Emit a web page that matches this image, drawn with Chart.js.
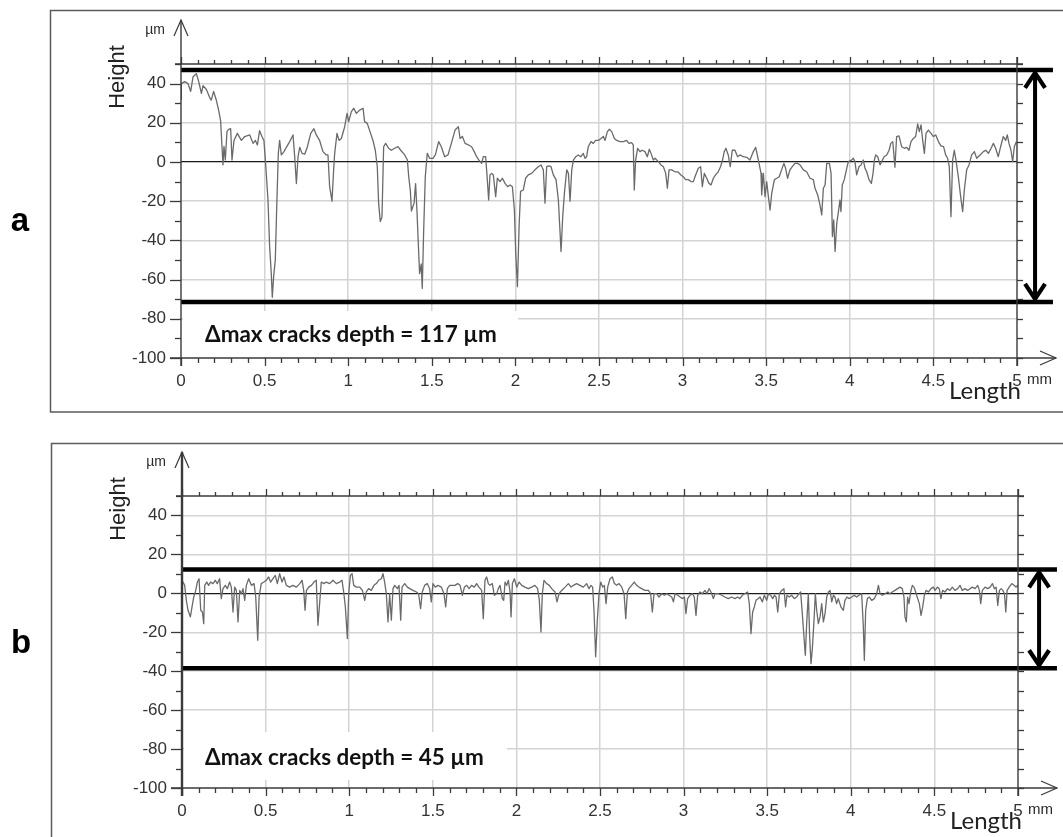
<!DOCTYPE html>
<html><head><meta charset="utf-8">
<script src="https://cdn.jsdelivr.net/npm/chart.js@4.4.1/dist/chart.umd.min.js"></script>
<style>
html,body{margin:0;padding:0;background:#fff;}
#wrap{position:relative;width:1063px;height:837px;overflow:hidden;background:#fff;}
canvas{position:absolute;left:0;}
</style></head><body>
<div id="wrap">
<canvas id="ca" width="1063" height="420" style="top:0"></canvas>
<canvas id="cb" width="1063" height="417" style="top:420px"></canvas>
</div>
<script>
// ---------- axis ticks ----------
const xTicks = [0, 0.5, 1, 1.5, 2, 2.5, 3, 3.5, 4, 4.5, 5];
const xTickLabels = ['0', '0.5', '1', '1.5', '2', '2.5', '3', '3.5', '4', '4.5', '5'];
const yTicks = [-100, -80, -60, -40, -20, 0, 20, 40];
const yTickLabels = ['-100', '-80', '-60', '-40', '-20', '0', '20', '40'];

// ---------- profile a (length mm, height µm) ----------
const lengthA = [0,0.002,0.022,0.042,0.058,0.072,0.092,0.106,0.122,0.132,0.152,0.171,0.181,0.195,0.211,0.225,0.237,0.245,0.251,0.257,0.265,0.275,0.285,0.297,0.305,0.317,0.337,0.361,0.381,0.411,0.431,0.445,0.457,0.470,0.484,0.496,0.506,0.520,0.530,0.540,0.546,0.554,0.564,0.572,0.582,0.590,0.600,0.616,0.630,0.650,0.670,0.680,0.690,0.700,0.710,0.724,0.740,0.756,0.776,0.795,0.809,0.829,0.849,0.869,0.879,0.889,0.903,0.913,0.919,0.933,0.945,0.959,0.979,0.993,1.003,1.019,1.033,1.049,1.069,1.089,1.098,1.114,1.134,1.148,1.162,1.174,1.182,1.192,1.202,1.212,1.224,1.242,1.258,1.278,1.298,1.314,1.338,1.354,1.362,1.372,1.378,1.394,1.403,1.411,1.421,1.427,1.437,1.443,1.451,1.461,1.473,1.487,1.507,1.521,1.541,1.557,1.577,1.597,1.617,
1.639,1.659,1.669,1.683,1.699,1.719,1.738,1.754,1.768,1.782,1.798,1.808,1.822,1.832,1.840,1.848,1.858,1.868,1.882,1.892,1.908,1.922,1.938,1.954,1.968,1.982,1.994,2.002,2.012,2.022,2.031,2.047,2.061,2.077,2.097,2.117,2.137,2.153,2.167,2.177,2.187,2.201,2.213,2.227,2.243,2.257,2.273,2.283,2.293,2.307,2.317,2.327,2.337,2.347,2.361,2.376,2.392,2.406,2.416,2.426,2.436,2.452,2.466,2.480,2.496,2.512,2.526,2.536,2.550,2.562,2.576,2.592,2.606,2.626,2.646,2.665,2.679,2.695,2.705,2.711,2.719,2.731,2.745,2.759,2.775,2.789,2.801,2.811,2.825,2.835,2.855,2.871,2.885,2.899,2.909,2.919,2.935,2.955,2.971,2.990,3.004,3.018,3.034,3.050,3.064,3.078,3.094,3.108,3.118,3.130,3.144,3.158,3.170,3.184,3.197,3.213,3.227,3.239,3.249,3.259,3.273,3.285,3.297,
3.313,3.329,3.343,3.363,3.383,3.403,3.423,3.437,3.449,3.459,3.469,3.473,3.483,3.493,3.503,3.513,3.523,3.533,3.549,3.563,3.578,3.592,3.606,3.616,3.628,3.642,3.656,3.672,3.688,3.702,3.722,3.742,3.762,3.782,3.792,3.808,3.822,3.832,3.842,3.852,3.862,3.878,3.888,3.896,3.904,3.912,3.922,3.932,3.941,3.947,3.955,3.967,3.977,3.991,4.011,4.021,4.031,4.041,4.055,4.067,4.081,4.091,4.101,4.115,4.129,4.139,4.147,4.155,4.167,4.181,4.191,4.205,4.221,4.235,4.245,4.257,4.270,4.280,4.294,4.310,4.326,4.340,4.354,4.366,4.380,4.394,4.406,4.416,4.426,4.436,4.446,4.456,4.470,4.486,4.500,4.514,4.530,4.545,4.561,4.573,4.585,4.595,4.605,4.615,4.625,4.635,4.649,4.663,4.675,4.685,4.699,4.713,4.729,4.745,4.759,4.779,4.799,4.813,4.829,4.845,4.859,4.872,4.888,4.902,4.918,4.932,4.942,4.952,4.964,4.974,4.984,4.996];
const heightA = [32,40,41,40,36,43.5,45,41,35,39,37,33,31.6,36,31.6,26.5,21,8,-1.5,8,1,15.5,16.7,17,1,11,14.6,11,13,13.8,9.5,11,8.7,16,13,11,-0.7,-19,-43,-57,-69,-58.5,-50,-24.5,4.4,11,3.6,5.3,7.5,10.4,13.8,2.7,-11,2.7,7.5,4.4,4,7.8,14.6,17,13.8,11,5.3,3.6,3.6,-12.6,-20,-4,4.4,14.6,11,12,18,24.8,20.6,25.7,27.4,24.8,26.5,27.4,20.6,19.7,14.6,11,6,-2.4,-21,-30.4,-28,7.8,9.5,7,6,7,7.8,6,3.6,1,-7.5,-15,-25,-21,-11,-24.5,-45,-57,-52,-64.5,-36,-7.5,4.4,1.9,1.9,3.6,10.4,7.8,2.7,3.6,9.5,
16.3,18,12,13,9.5,8.7,7.8,5.3,2.7,1,-0.7,2.7,2.7,-9,-19.4,-6.6,-5.8,-6.6,-17.7,-8.3,-10,-8.3,-10.9,-12.6,-11.7,-12.6,-24.5,-46.6,-63.6,-33,-15,-14.3,-8.3,-6.6,-5.8,-4,-2.4,-1.5,-4,-21,-2.4,-2,-2.4,-6.6,-9,-19.4,-45.7,-27.9,-16,-4,-5.8,-20,-4,1,2.7,3.6,2.7,4.4,1.9,2.7,7.8,10.4,9.5,11,11,12,13,11,15.5,16.7,15.5,12,11,10.4,10.4,11,9.5,9.9,8.7,-14.3,1,7,5.3,6,5.3,2.7,6.5,4.4,1,1.9,0.2,-1.5,-2.4,-5.8,-13.4,-4,-4,-5,-5,-6.6,-7.5,-9,-9,-10,-10,-6.6,-3.2,-2.4,-12.6,-5.8,-8.3,-10.9,-11.7,-8.3,-6.6,-5,-2.4,1,5.3,7,3.6,-2.4,6,
6,2.7,3.6,2.7,2.4,1,5.3,7.5,2.7,-1.5,-5.8,-16.8,-5.8,-17.7,-10,-17.7,-24.5,-16,-9,-8.3,-7.5,-4,-0.7,-3.2,-8.3,-4,-2.4,-0.7,-0.7,-1.5,-4,-5,-8.3,-9,-13.4,-16.8,-22,-27,-13.4,-11.7,-0.7,-0.7,-5.8,-38,-29.6,-45.7,-31.3,-25.3,-19.4,-25.3,-11.7,-9,-5,0.2,1,1.9,0.2,-6.6,-2.4,-1.5,1,-3.2,-5,-9,-10.9,-5.8,1,3.6,2.7,-1.5,0.2,2.7,3.6,6,9.5,10.4,-2.7,13,13.3,7.8,7,7.5,6,10.4,12,13,19.4,15.5,18.9,11,4.4,14.6,16.3,14.6,13,13.8,10.4,8.2,7.8,3.6,1.9,-2.4,-27.9,1,6,1,-7.5,-17.7,-25.3,-14.3,-4,-1.5,3.6,5.3,1.9,3.6,5.3,6,4.4,7,9.5,7,2.7,7.8,13,11,13.8,9.5,6,0.2,7.8,10.4];

// ---------- profile b (length mm, height µm) ----------
const lengthB = [0,0.006,0.016,0.026,0.036,0.050,0.060,0.070,0.080,0.092,0.102,0.112,0.122,0.130,0.136,0.148,0.159,0.171,0.185,0.199,0.211,0.225,0.235,0.245,0.259,0.271,0.285,0.295,0.305,0.315,0.325,0.335,0.345,0.355,0.365,0.375,0.385,0.399,0.415,0.431,0.441,0.453,0.461,0.474,0.490,0.504,0.518,0.530,0.544,0.558,0.570,0.584,0.598,0.610,0.624,0.644,0.664,0.684,0.704,0.718,0.728,0.736,0.744,0.758,0.774,0.789,0.803,0.813,0.823,0.833,0.849,0.863,0.883,0.903,0.923,0.943,0.957,0.967,0.977,0.989,0.997,1.007,1.017,1.027,1.043,1.063,1.079,1.093,1.102,1.116,1.132,1.148,1.162,1.176,1.192,1.202,1.212,1.222,1.232,1.242,1.252,1.262,1.272,1.288,1.298,1.308,1.316,1.332,1.348,1.362,1.382,1.402,1.415,1.427,1.437,1.451,1.467,1.481,1.491,1.501,1.515,1.531,1.551,1.567,1.577,1.587,1.601,1.621,
1.633,1.649,1.663,1.677,1.689,1.703,1.717,1.732,1.748,1.762,1.776,1.792,1.802,1.812,1.822,1.832,1.842,1.856,1.868,1.882,1.892,1.902,1.916,1.924,1.932,1.942,1.952,1.962,1.968,1.976,1.988,2.002,2.016,2.032,2.051,2.071,2.091,2.111,2.127,2.137,2.147,2.155,2.165,2.181,2.197,2.211,2.231,2.243,2.255,2.271,2.291,2.311,2.327,2.341,2.360,2.380,2.400,2.420,2.434,2.446,2.456,2.464,2.474,2.484,2.494,2.504,2.516,2.526,2.536,2.546,2.560,2.574,2.586,2.600,2.614,2.630,2.644,2.654,2.664,2.673,2.689,2.705,2.719,2.733,2.749,2.769,2.789,2.803,2.813,2.823,2.839,2.853,2.869,2.885,2.899,2.913,2.929,2.939,2.949,2.965,2.979,2.993,3.005,3.014,3.024,3.038,3.052,3.064,3.074,3.084,3.098,3.112,3.128,3.140,3.152,3.164,3.178,3.188,3.208,3.228,3.247,3.267,3.287,
3.307,3.323,3.337,3.351,3.365,3.383,3.393,3.403,3.413,3.423,3.433,3.447,3.457,3.471,3.483,3.497,3.507,3.521,3.533,3.543,3.553,3.563,3.573,3.587,3.600,3.610,3.618,3.632,3.646,3.662,3.676,3.690,3.700,3.710,3.720,3.728,3.736,3.746,3.754,3.762,3.770,3.780,3.788,3.796,3.806,3.816,3.826,3.836,3.846,3.856,3.866,3.876,3.886,3.896,3.905,3.915,3.925,3.941,3.955,3.965,3.977,3.989,4.005,4.021,4.035,4.049,4.065,4.075,4.081,4.089,4.099,4.111,4.125,4.141,4.155,4.165,4.175,4.189,4.205,4.221,4.234,4.248,4.264,4.280,4.294,4.308,4.318,4.324,4.332,4.340,4.348,4.358,4.368,4.378,4.388,4.400,4.410,4.420,4.430,4.440,4.450,4.464,4.480,4.494,4.504,4.518,4.529,4.539,4.549,4.563,4.579,4.593,4.607,4.623,4.639,4.653,4.667,4.683,4.699,4.713,4.727,4.743,4.759,4.769,4.777,4.787,4.803,4.819,4.833,4.847,4.859,4.869,4.879,4.889,4.899,4.909,4.919,4.927,4.935,4.947,4.963,4.976,4.988,5.0];
const heightB = [5,5.8,4.1,-3.6,-8.7,-12.1,-7,-1.9,0.7,5.8,7.5,-8.7,-9.6,-15.6,4.1,5.8,4.1,5.8,5,6.7,5,7.5,-2.7,2.4,4.1,2.4,5.8,3.2,-9.6,3.2,1.5,-14.7,1.5,-0.2,2.4,-3.6,4.1,7.5,4.1,5,-1.9,-24.1,-1.9,5,5.8,6.7,8.4,5.8,7.5,9.2,5,10.1,5.8,8.4,4.1,3.2,4.1,3.2,5,6.7,1.5,-8.7,1.5,3.2,4.1,5.8,6.7,-16.4,-5.3,5.8,5,5.8,5,6.7,5,5.8,6.7,0.7,-7,-23.2,-0.2,9.2,10.1,4.1,3.2,3.2,1.5,-3.6,0.7,2.4,1.5,4.1,5,6.7,7.5,10.1,5.8,-0.2,-14.7,-0.2,-13.8,2.4,4.1,2.4,4.1,-13.8,3.2,5,3.2,2.4,1.5,0.7,-0.2,-7.9,0.7,4.1,5,2.4,-4.4,5,3.2,4.1,3.2,-0.2,-7,2.4,4.1,4.1,
4.1,5,4.1,-1,3.2,4.1,2.4,4.1,3.2,5,3.2,1.5,-13,6.7,8.4,5,4.1,5,-1,-0.2,2.4,4.1,-2.7,-3.6,5.8,4.1,6.7,0.7,-12.1,5,7.5,3.2,5.8,4.1,3.2,2.4,3.2,4.1,2.4,-3.6,-19.8,-0.2,6.7,5,4.1,2.4,0.7,-4.4,-0.2,1.5,3.2,5,3.2,4.1,5,4.1,3.2,5,2.4,4.1,3.2,-8.7,-32.6,-13.8,-0.2,5.8,3.2,4.1,-5.3,3.2,7.5,8.4,5,4.1,5,3.2,-0.2,-13,0.7,2.4,4.1,5.8,4.1,3.2,2.4,1.5,1.5,-0.2,-9.6,-0.2,-0.2,-1.9,-0.2,-1,-0.2,-1,-1.9,-4.4,-0.2,-1,-1.9,-2.7,-1.9,-10.4,-2.7,-1,-0.2,-1.9,-11.3,-1,0.7,-0.2,1.5,-0.2,2.4,0.7,-2.7,-0.2,-0.2,-1,-1.9,-2.7,-1.9,
-2.7,-1.9,-2.7,-1,-0.2,0.7,-5.3,-20.7,-9.6,-7,-3.6,-2.7,-1.9,-4.4,-1,-3.6,-0.2,-1,-2.7,-1,-1.9,-9.6,-0.2,1.5,2.4,-7,-1,-1.9,-1,-2.7,-1.9,-0.2,0.7,-10.4,-22.4,-31.8,-15.6,-0.2,-22.4,-36.1,-28.4,-13.8,-0.2,-8.7,-15.6,-12.1,-5.3,-14.7,-10.4,-1.9,0.7,1.5,-4.4,-1,-1.9,-5.3,-2.7,-7,-8.7,-3.6,-1.9,-2.7,-1.9,-1,-1.9,-1,-0.2,-17.3,-34.4,-8.7,-2.7,-1.9,-3.6,-2.7,-0.2,4.1,-0.2,-1,-0.2,0.7,-0.2,0.7,1.5,2.4,3.2,2.4,-1.9,-12.1,-14.7,-1.9,-5.3,0.7,4.1,3.2,0.7,-2.7,-5.3,-11.3,-7,-1,1.5,0.7,2.4,3.2,1.5,3.2,2.4,-2.7,1.5,0.7,2.4,1.5,3.2,1.5,2.4,4.1,1.5,2.4,1.5,2.4,3.2,2.4,4.1,1.5,-5.3,1.5,3.2,2.4,3.2,5,2.4,3.2,-6.2,1.5,2.4,1.5,-0.2,-9.6,1.5,3.2,5,4.1,3.2,4.1];

// ---------- crack-depth bounds ----------
const boundsA = [47, -71.4];
const boundsB = [12.3, -38.5];
const depthLabelA = 'Δmax cracks depth = 117 µm';
const depthLabelB = 'Δmax cracks depth = 45 µm';

const SANS = '"Liberation Sans", Arial, Helvetica, sans-serif';
const HUM = 'Lato, "Open Sans", sans-serif';

function fitSize(ctx, text, weight, family, target) {
  ctx.font = weight + ' 20px ' + family;
  return 20 * target / ctx.measureText(text).width;
}

function buildChart(id, cfg) {
  const g = cfg.geom;
  const canvas = document.getElementById(id);
  const W = canvas.width, H = canvas.height;
  const axisColor = '#3a3a3a';
  const line = (c, x1, y1, x2, y2) => { c.beginPath(); c.moveTo(x1, y1); c.lineTo(x2, y2); c.stroke(); };

  const decor = {
    id: 'decor_' + id,
    beforeDraw(chart) {
      const c = chart.ctx;
      c.save();
      c.fillStyle = '#fff'; c.fillRect(0, 0, W, H);
      c.strokeStyle = '#5c5c5c'; c.lineWidth = 1.5;
      c.beginPath();
      c.moveTo(W + 5, g.frame.top); c.lineTo(g.frame.left, g.frame.top);
      c.lineTo(g.frame.left, g.frame.bottom); c.lineTo(W + 5, g.frame.bottom);
      c.stroke();
      c.fillStyle = '#000';
      c.font = 'bold 33px ' + SANS;
      c.textAlign = 'center'; c.textBaseline = 'middle';
      c.fillText(cfg.panel, g.panelX, g.panelY);
      c.restore();
    },
    beforeDatasetsDraw(chart) {
      const c = chart.ctx, a = chart.chartArea;
      const nb = g.note;
      c.save();
      c.fillStyle = '#fff';
      c.fillRect(a.left + 2, a.bottom - nb.top, nb.width, nb.top - nb.bottom);
      const fs = fitSize(c, cfg.label, 'bold', HUM, nb.textWidth);
      c.font = 'bold ' + fs.toFixed(2) + 'px ' + HUM;
      c.fillStyle = '#111';
      c.textAlign = 'left'; c.textBaseline = 'middle';
      c.fillText(cfg.label, a.left + nb.textX, a.bottom - nb.textY);
      c.restore();
    },
    afterDatasetsDraw(chart) {
      const c = chart.ctx, a = chart.chartArea;
      const xs = chart.scales.x, ys = chart.scales.y;
      const L = a.left, R = a.right, T = a.top, B = a.bottom;
      c.save();
      c.strokeStyle = axisColor; c.lineCap = 'butt';
      // axis lines
      c.lineWidth = 1.4;
      line(c, L - 6, T, R + 6, T);
      line(c, L - 11, B, R + 39, B);
      line(c, R, T - 7, R, B + 8);
      c.lineWidth = g.leftAxisWidth;
      line(c, L, B + 8, L, T - 44);
      c.lineWidth = 1.2;
      // y arrow head
      c.beginPath(); c.moveTo(L - 7, T - 28); c.lineTo(L, T - 44); c.lineTo(L + 7, T - 28); c.stroke();
      // x arrow head
      c.beginPath(); c.moveTo(R + 23, B - 7); c.lineTo(R + 39, B); c.lineTo(R + 23, B + 7); c.stroke();
      // x ticks (every 0.1 mm)
      c.lineWidth = 1.3;
      for (let i = 0; i <= 50; i++) {
        const px = Math.round(xs.getPixelForValue(i / 10)) + 0.5;
        const major = i % 5 === 0;
        line(c, px, T, px, T - (major ? 7 : 4));
        line(c, px, B, px, B + (major ? 8 : 5));
      }
      // y ticks (every 10 µm)
      for (let v = -100; v <= 50; v += 10) {
        const py = Math.round(ys.getPixelForValue(v)) + 0.5;
        const major = v % 20 === 0;
        line(c, L - (major ? 11 : 6), py, L, py);
        line(c, R, py, R + 6, py);
      }
      // double arrow heads
      const ax = xs.getPixelForValue(cfg.arrowX);
      const yTop = ys.getPixelForValue(cfg.bounds[0]) + 3;
      const yBot = ys.getPixelForValue(cfg.bounds[1]) - 3;
      c.strokeStyle = '#000'; c.lineWidth = 4.2; c.lineJoin = 'miter';
      c.beginPath(); c.moveTo(ax - 10, yTop + 15); c.lineTo(ax, yTop); c.lineTo(ax + 10, yTop + 15); c.stroke();
      c.beginPath(); c.moveTo(ax - 10, yBot - 15); c.lineTo(ax, yBot); c.lineTo(ax + 10, yBot - 15); c.stroke();
      // texts
      c.fillStyle = '#2a2a2a';
      c.font = '14px ' + SANS; c.textAlign = 'right'; c.textBaseline = 'middle';
      c.fillText('µm', L - 16, T - 34);
      c.font = '15px ' + SANS; c.textAlign = 'left';
      c.fillText('mm', R + 10, B + 22);
      c.save();
      c.translate(L - 63, T + 13); c.rotate(-Math.PI / 2);
      c.font = '22px ' + SANS; c.textAlign = 'center'; c.textBaseline = 'middle';
      c.fillStyle = '#222';
      c.fillText('Height', 0, 0);
      c.restore();
      const ls = fitSize(c, 'Length', 'normal', HUM, 72);
      c.font = ls.toFixed(2) + 'px ' + HUM;
      c.fillStyle = '#222'; c.textAlign = 'right'; c.textBaseline = 'alphabetic';
      c.fillText('Length', R + 4, B + 41);
      c.restore();
    }
  };

  const profile = cfg.lengths.map((x, i) => ({ x: x, y: cfg.heights[i] }));
  const chart = new Chart(canvas, {
    type: 'line',
    data: {
      datasets: [
        { data: profile, borderColor: '#6a6a6a', borderWidth: 1.3, pointRadius: 0, tension: 0, borderJoinStyle: 'round' },
        { data: [{ x: 0, y: cfg.bounds[0] }, { x: cfg.lineEnd, y: cfg.bounds[0] }], borderColor: '#000', borderWidth: 4.5, pointRadius: 0, clip: false },
        { data: [{ x: 0, y: cfg.bounds[1] }, { x: cfg.lineEnd, y: cfg.bounds[1] }], borderColor: '#000', borderWidth: 4.5, pointRadius: 0, clip: false },
        { data: [{ x: cfg.arrowX, y: cfg.bounds[0] - 1.5 }, { x: cfg.arrowX, y: cfg.bounds[1] + 1.5 }], borderColor: '#000', borderWidth: 4, pointRadius: 0, clip: false }
      ]
    },
    options: {
      responsive: false, animation: false, devicePixelRatio: 1, events: [],
      layout: { padding: { left: 0, right: W - g.right, top: g.top, bottom: 0 } },
      plugins: { legend: { display: false }, tooltip: { enabled: false }, title: { display: false } },
      scales: {
        x: {
          type: 'linear', min: 0, max: 5,
          afterBuildTicks: s => { s.ticks = xTicks.map(v => ({ value: v })); },
          afterFit: s => { s.height = H - g.bottom; },
          ticks: {
            callback: v => { const i = xTicks.indexOf(v); return i >= 0 ? xTickLabels[i] : ''; },
            font: { family: SANS, size: 17 }, color: '#333', padding: 13, maxRotation: 0, autoSkip: false
          },
          grid: {
            drawTicks: false, lineWidth: 1.5,
            color: ctx => (ctx.tick && (ctx.tick.value === 0 || ctx.tick.value === 5)) ? 'rgba(0,0,0,0)' : '#d3d3d3'
          },
          border: { display: false }
        },
        y: {
          type: 'linear', min: -100, max: 50,
          afterBuildTicks: s => { s.ticks = yTicks.map(v => ({ value: v })); },
          afterFit: s => { s.width = g.left; },
          ticks: {
            callback: v => { const i = yTicks.indexOf(v); return i >= 0 ? yTickLabels[i] : ''; },
            font: { family: SANS, size: 17 }, color: '#333', padding: 15, autoSkip: false
          },
          grid: {
            drawTicks: false,
            lineWidth: ctx => (ctx.tick && ctx.tick.value === 0) ? 1.2 : 1.5,
            color: ctx => {
              if (!ctx.tick) return '#d3d3d3';
              if (ctx.tick.value === 0) return '#1a1a1a';
              if (ctx.tick.value === -100) return 'rgba(0,0,0,0)';
              return '#d3d3d3';
            }
          },
          border: { display: false }
        }
      }
    },
    plugins: [decor]
  });
  // pin the plot area to the reference position
  for (let k = 0; k < 3; k++) {
    const ca = chart.chartArea, p = chart.options.layout.padding;
    p.top += g.top - ca.top;
    p.right += ca.right - g.right;
    p.bottom += ca.bottom - g.bottom;
    chart.update('none');
  }
  return chart;
}

buildChart('ca', {
  panel: 'a', lengths: lengthA, heights: heightA, bounds: boundsA, label: depthLabelA,
  lineEnd: 5.215, arrowX: 5.108,
  geom: {
    left: 181, right: 1017, top: 64, bottom: 358, leftAxisWidth: 1.4,
    frame: { left: 50.5, top: 10.5, bottom: 412 }, panelX: 20, panelY: 222,
    note: { top: 47, bottom: 1, width: 335, textX: 24, textY: 23, textWidth: 292 }
  }
});
buildChart('cb', {
  panel: 'b', lengths: lengthB, heights: heightB, bounds: boundsB, label: depthLabelB,
  lineEnd: 5.233, arrowX: 5.126,
  geom: {
    left: 182, right: 1018, top: 76, bottom: 368, leftAxisWidth: 2.4,
    frame: { left: 51.5, top: 23.5, bottom: 430 }, panelX: 21, panelY: 224,
    note: { top: 56, bottom: 8, width: 323, textX: 23, textY: 30, textWidth: 279 }
  }
});
</script>
</body></html>
